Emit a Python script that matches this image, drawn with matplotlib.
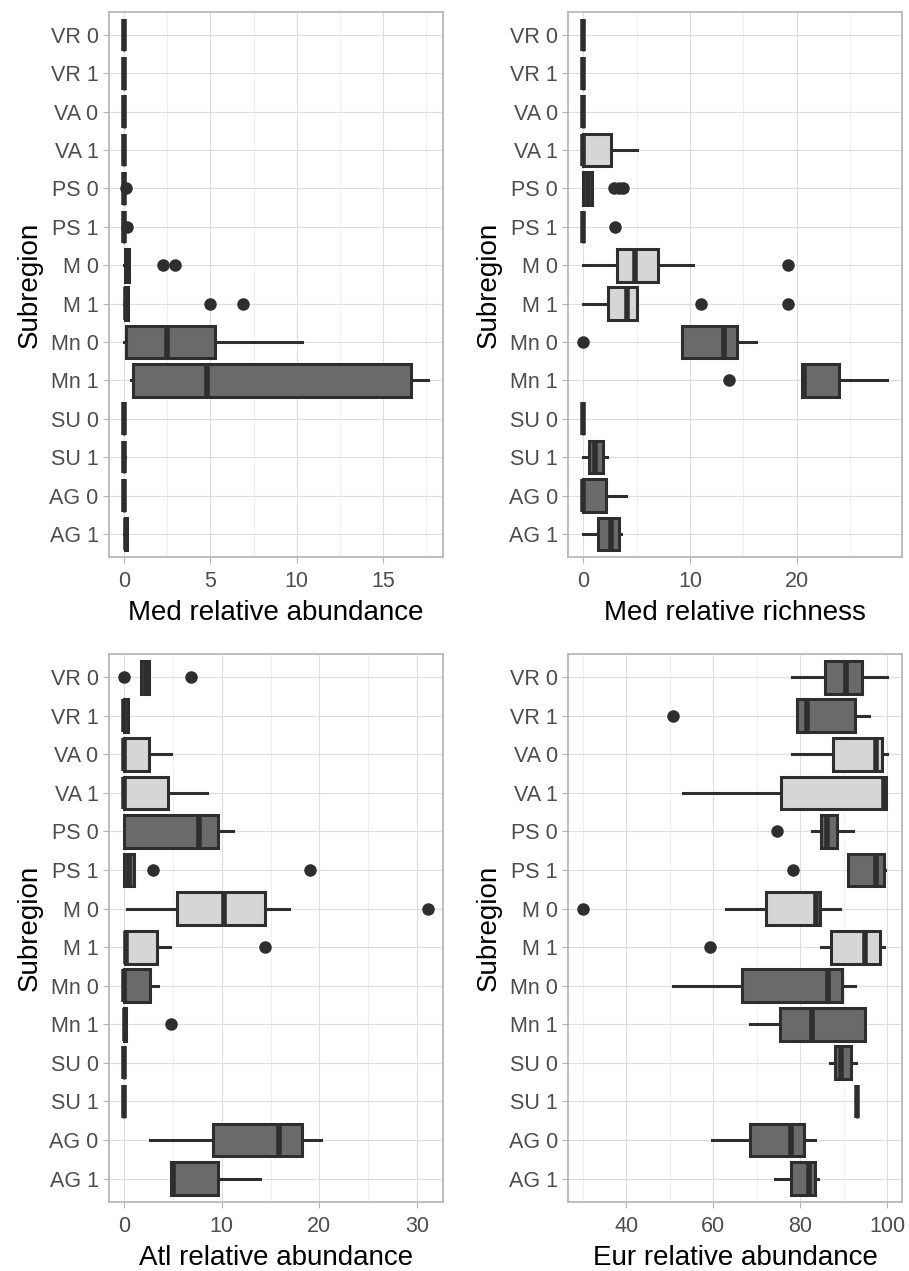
import matplotlib
matplotlib.use("Agg")
import matplotlib.pyplot as plt
import numpy as np

plt.rcParams["font.family"] = ["Liberation Sans", "DejaVu Sans"]

# categories, top to bottom
subregions = ["VR 0", "VR 1", "VA 0", "VA 1", "PS 0", "PS 1", "M 0", "M 1",
              "Mn 0", "Mn 1", "SU 0", "SU 1", "AG 0", "AG 1"]
light_groups = ["VA 0", "VA 1", "M 0", "M 1"]

# box stats per category: (lower whisker, q1, median, q3, upper whisker)
med_abund = [(0, 0, 0, 0, 0), (0, 0, 0, 0, 0), (0, 0, 0, 0, 0), (0, 0, 0, 0, 0),
             (0, 0, 0, 0, 0), (0, 0, 0, 0, 0.05), (0, 0.05, 0.2, 0.3, 0.3),
             (0, 0.05, 0.1, 0.2, 0.2), (0, 0.09, 2.5, 5.25, 10.33),
             (0.4, 0.51, 4.82, 16.6, 17.6), (0, 0, 0, 0, 0), (0, 0, 0, 0, 0.05),
             (0, 0, 0, 0, 0), (0, 0.05, 0.1, 0.15, 0.15)]
med_abund_out = [[], [], [], [], [0.1], [0.15], [2.25, 2.97], [5.0, 6.89],
                 [], [], [], [], [], []]

med_rich = [(0, 0, 0, 0, 0), (0, 0, 0, 0, 0), (0, 0, 0, 0, 0), (0, 0, 0, 2.56, 5.0),
            (0, 0, 0.4, 0.8, 0.8), (0, 0, 0, 0, 0), (0, 3.16, 4.8, 7.0, 10.3),
            (0, 2.3, 4.1, 5.0, 5.0), (9.28, 9.28, 13.2, 14.4, 16.2),
            (20.5, 20.5, 20.7, 24.0, 28.5), (0, 0, 0, 0, 0), (0, 0.5, 1.06, 1.8, 2.2),
            (0, 0, 0, 2.15, 3.97), (0, 1.4, 2.6, 3.3, 3.5)]
med_rich_out = [[], [], [], [], [2.9, 3.3, 3.7], [2.94], [19.2], [11.06, 19.2],
                [0.0], [13.7], [], [], [], []]

atl_abund = [(1.77, 1.77, 2.2, 2.5, 2.5), (0, 0, 0, 0.4, 0.4), (0, 0, 0, 2.5, 4.78),
             (0, 0, 0, 4.44, 8.46), (0, 0, 7.68, 9.66, 11.16), (0, 0, 0.5, 1.0, 1.0),
             (0.27, 5.43, 10.2, 14.47, 16.9), (0.07, 0.07, 0.2, 3.38, 4.7),
             (0, 0, 0, 2.6, 3.48), (0, 0, 0.1, 0.2, 0.2), (0, 0, 0, 0, 0),
             (0, 0, 0, 0, 0), (2.63, 9.15, 15.9, 18.2, 20.2), (4.8, 4.8, 5.0, 9.66, 13.9)]
atl_abund_out = [[0.0, 6.8], [], [], [], [], [2.97, 19.08], [31.1], [14.4],
                 [], [4.78], [], [], [], []]

eur_abund = [(78.1, 85.6, 90.6, 94.2, 100.0), (79.3, 79.3, 81.6, 92.6, 95.9),
             (78.1, 87.5, 97.5, 98.9, 100.0), (52.9, 75.6, 99.4, 99.7, 99.7),
             (82.8, 84.7, 86.2, 88.5, 92.2), (91.0, 91.0, 97.5, 99.4, 99.6),
             (62.8, 72.2, 83.7, 84.5, 89.2), (84.7, 87.0, 95.0, 98.4, 99.4),
             (50.7, 66.6, 86.5, 89.6, 92.5), (68.4, 75.4, 82.8, 94.8, 94.8),
             (86.9, 88.1, 89.4, 91.6, 92.9), (93.1, 93.1, 93.1, 93.1, 93.1),
             (59.7, 68.4, 77.9, 80.8, 83.4), (74.1, 77.8, 82.0, 83.3, 84.2)]
eur_abund_out = [[], [50.6], [], [], [74.7], [78.4], [30.1], [59.3],
                 [], [], [], [], [], []]

panels = [
    (med_abund, med_abund_out, "Med relative abundance", [0, 5, 10, 15], 2.5),
    (med_rich, med_rich_out, "Med relative richness", [0, 10, 20], 5),
    (atl_abund, atl_abund_out, "Atl relative abundance", [0, 10, 20, 30], 5),
    (eur_abund, eur_abund_out, "Eur relative abundance", [40, 60, 80, 100], 10),
]

axes_rects = [
    [0.1199, 0.5618, 0.3674, 0.4288],
    [0.6252, 0.5618, 0.3674, 0.4288],
    [0.1199, 0.0545, 0.3674, 0.4309],
    [0.6252, 0.0545, 0.3674, 0.4309],
]

dark_fill = "#6a6a6a"
light_fill = "#d6d6d6"
edge = "#2e2e2e"

fig = plt.figure(figsize=(9.09, 12.71), dpi=100)

for (stats, outs, xlabel, xticks, minor_step), rect in zip(panels, axes_rects):
    ax = fig.add_axes(rect)
    pos = np.arange(1, len(subregions) + 1)
    bxp_stats = []
    for name, s, o in zip(subregions, stats, outs):
        bxp_stats.append(dict(label=name, whislo=s[0], q1=s[1], med=s[2],
                              q3=s[3], whishi=s[4], fliers=o))
    res = ax.bxp(bxp_stats, positions=pos, widths=0.85, orientation="horizontal",
                 patch_artist=True, showcaps=False,
                 boxprops=dict(edgecolor=edge, linewidth=2.2),
                 whiskerprops=dict(color=edge, linewidth=2.2),
                 medianprops=dict(color=edge, linewidth=4.0, solid_capstyle="butt"),
                 flierprops=dict(marker="o", markerfacecolor=edge, markeredgecolor=edge,
                                 markersize=8, linestyle="none"))
    for name, box in zip(subregions, res["boxes"]):
        box.set_facecolor(light_fill if name in light_groups else dark_fill)
        box.set_zorder(3)
    for ln in res["medians"]:
        ln.set_zorder(4)

    # ggplot-like 5% expansion
    all_out = [v for o in outs for v in o]
    lo = min([s[0] for s in stats] + all_out)
    hi = max([s[4] for s in stats] + all_out)
    pad = (hi - lo) * 0.05

    ax.set_xticks(xticks)
    ax.set_xticks(np.arange(xticks[0] - minor_step, hi + pad, 2 * minor_step), minor=True)
    ax.set_yticks(pos)
    ax.set_yticklabels(subregions)
    ax.set_xlim(lo - pad, hi + pad)
    ax.set_ylim(len(subregions) + 0.6, 0.4)

    ax.grid(True, which="major", color="#dedede", linewidth=0.8, zorder=0)
    ax.grid(True, which="minor", axis="x", color="#ececec", linewidth=0.6, zorder=0)
    ax.set_axisbelow(True)
    ax.tick_params(axis="both", which="major", labelsize=15.5, labelcolor="#4d4d4d",
                   color="#b3b3b3", length=4, width=0.8)
    ax.tick_params(axis="x", which="major", pad=6)
    ax.tick_params(axis="both", which="minor", length=0)
    for sp in ax.spines.values():
        sp.set_color("#b3b3b3")
        sp.set_linewidth(1.2)
    ax.set_xlabel(xlabel, fontsize=20, color="black", labelpad=6)
    ax.set_ylabel("Subregion", fontsize=20, color="black", labelpad=5)

fig.savefig("out.png", dpi=100)
